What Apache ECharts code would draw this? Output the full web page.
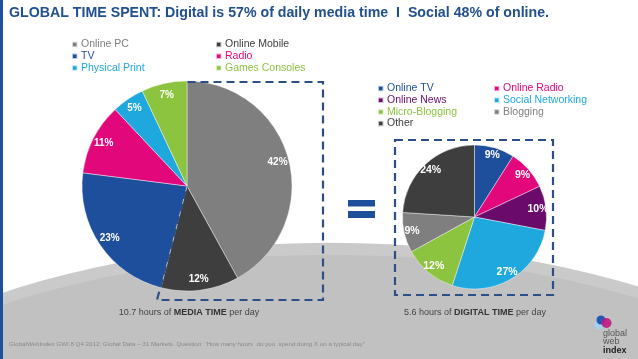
<!DOCTYPE html>
<html>
<head>
<meta charset="utf-8">
<script src="https://cdn.jsdelivr.net/npm/echarts@6/dist/echarts.min.js"></script>
<style>html,body{margin:0;padding:0;background:#fff;}#c{width:638px;height:359px;}</style>
</head>
<body>
<div id="c"></div>
<script>
// ---- data ----
const mediaCategories = ['Online PC', 'Online Mobile', 'TV', 'Radio', 'Physical Print', 'Games Consoles'];
const mediaValues = [42, 12, 23, 11, 5, 7];
const mediaColors = ['#7f7f7f', '#3e3e3e', '#1e4f9c', '#e2077a', '#1fa8de', '#8cc33f'];

const digitalCategories = ['Online TV', 'Online Radio', 'Online News', 'Social Networking', 'Micro-Blogging', 'Blogging', 'Other'];
const digitalValues = [9, 9, 10, 27, 12, 9, 24];
const digitalColors = ['#1e4f9c', '#e2077a', '#6a0b6c', '#1fa8de', '#8cc33f', '#7f7f7f', '#3e3e3e'];

const titleText = 'GLOBAL TIME SPENT: Digital is 57% of daily media time  I  Social 48% of online.';
const mediaCaption = ['10.7 hours of ', 'MEDIA TIME', ' per day'];
const digitalCaption = ['5.6 hours of ', 'DIGITAL TIME', ' per day'];
const footnote = 'GlobalWebIndex GWI.8 Q4 2012: Global Data \u2013 31 Markets. Question: \u201CHow many hours  do you  spend doing X on a typical day\u201D';

// ---- build ----
const FONT = 'Liberation Sans, Arial, sans-serif';
function items(names, vals, colors) {
  return names.map((n, i) => ({ name: n, value: vals[i], itemStyle: { color: colors[i] } }));
}
function legendData(names, colors, idx) {
  return idx.map(i => ({ name: names[i], textStyle: { color: colors[i] } }));
}
function legend(left, top, names, colors, idx) {
  return {
    orient: 'vertical', left: left, top: top, icon: 'rect',
    itemWidth: 5.5, itemHeight: 5.5, itemGap: 0.7, padding: 0, selectedMode: false,
    textStyle: { fontFamily: FONT, fontSize: 10.5, lineHeight: 11, padding: [0, 0, 0, -1.5] },
    data: legendData(names, colors, idx)
  };
}
const pieBase = { type: 'pie', startAngle: 90, clockwise: true, animation: false, emphasis: { disabled: true } };
const mediaData = items(mediaCategories, mediaValues, mediaColors);
const digitalData = items(digitalCategories, digitalValues, digitalColors);
function labelOverlay(center, radius, data, fs) {
  return Object.assign({}, pieBase, {
    center: center, radius: radius, silent: true, legendHoverLink: false,
    data: data.map(d => ({ name: d.name, value: d.value, itemStyle: { color: 'rgba(0,0,0,0)' } })),
    itemStyle: { borderWidth: 0 },
    label: { show: true, position: 'inside', formatter: '{c}%', color: '#fff', fontWeight: 'bold', fontSize: fs, fontFamily: FONT },
    labelLine: { show: false }, z: 5
  });
}
const dash = { stroke: '#2b4f86', lineWidth: 2.2, lineDash: [8, 5], fill: null };

const option = {
  animation: false,
  title: {
    text: titleText, left: 9, top: 6, padding: 0,
    textStyle: { fontFamily: FONT, fontSize: 14.2, fontWeight: 'bold', color: '#22508f' }
  },
  legend: [
    legend(71, 39, mediaCategories, mediaColors, [0, 2, 4]),
    legend(215, 39, mediaCategories, mediaColors, [1, 3, 5]),
    legend(377, 83, digitalCategories, digitalColors, [0, 2, 4, 6]),
    legend(493, 83, digitalCategories, digitalColors, [1, 3, 5])
  ],
  series: [
    Object.assign({}, pieBase, {
      center: [187, 186], radius: [0, 105], data: mediaData,
      itemStyle: { borderColor: 'rgba(255,255,255,0.7)', borderWidth: 0.6 },
      label: { show: false }, labelLine: { show: false }
    }),
    Object.assign({}, pieBase, {
      center: [474.5, 217], radius: [0, 72], data: digitalData,
      itemStyle: { borderColor: 'rgba(255,255,255,0.7)', borderWidth: 0.6 },
      label: { show: false }, labelLine: { show: false }
    }),
    labelOverlay([187, 186], [76, 105], mediaData, 10),
    labelOverlay([474.5, 217], [50, 72], digitalData, 10.5)
  ],
  graphic: [
    // background arc
    { type: 'circle', x: 330, y: 563, scaleY: 0.525, shape: { cx: 0, cy: 0, r: 610 }, style: { fill: '#cacaca' }, z: -10, silent: true },
    { type: 'circle', x: 330, y: 575, scaleY: 0.525, shape: { cx: 0, cy: 0, r: 610 }, style: { fill: '#c1c1c1' }, z: -9, silent: true },
    // left accent bar
    { type: 'rect', shape: { x: 0, y: 0, width: 3, height: 359 }, style: { fill: '#1e4f9c' }, z: 20, silent: true },
    // dashed boxes
    { type: 'polyline', shape: { points: [[187.5, 82], [323, 82], [323, 300], [157, 300], [187, 186]] }, style: dash, z: 20, silent: true },
    { type: 'rect', shape: { x: 395, y: 140, width: 158, height: 155 }, style: dash, z: 20, silent: true },
    // equals sign
    { type: 'rect', shape: { x: 348, y: 200, width: 27, height: 6.5 }, style: { fill: '#1e4f9c' }, z: 20, silent: true },
    { type: 'rect', shape: { x: 348, y: 211, width: 27, height: 7 }, style: { fill: '#1e4f9c' }, z: 20, silent: true },
    // captions
    { type: 'text', x: 189, y: 313, z: 20, silent: true,
      style: { text: '{a|' + mediaCaption[0] + '}{b|' + mediaCaption[1] + '}{a|' + mediaCaption[2] + '}', align: 'center', verticalAlign: 'middle',
        rich: { a: { fontFamily: FONT, fontSize: 9, fill: '#444' }, b: { fontFamily: FONT, fontSize: 9, fontWeight: 'bold', fill: '#333' } } } },
    { type: 'text', x: 475, y: 313, z: 20, silent: true,
      style: { text: '{a|' + digitalCaption[0] + '}{b|' + digitalCaption[1] + '}{a|' + digitalCaption[2] + '}', align: 'center', verticalAlign: 'middle',
        rich: { a: { fontFamily: FONT, fontSize: 9, fill: '#444' }, b: { fontFamily: FONT, fontSize: 9, fontWeight: 'bold', fill: '#333' } } } },
    // footnote
    { type: 'text', x: 9, y: 344, z: 20, silent: true,
      style: { text: footnote, fontFamily: FONT, fontSize: 6.2, fill: '#8a8a8a', verticalAlign: 'middle' } },
    // logo
    { type: 'circle', shape: { cx: 599, cy: 325, r: 4.5 }, style: { fill: '#9fd3ef' }, z: 20, silent: true },
    { type: 'circle', shape: { cx: 601, cy: 320, r: 4.5 }, style: { fill: '#2856b8' }, z: 21, silent: true },
    { type: 'circle', shape: { cx: 606.5, cy: 323, r: 5 }, style: { fill: '#c0187e', opacity: 0.9 }, z: 22, silent: true },
    { type: 'text', x: 603, y: 334, z: 20, silent: true, style: { text: 'global', fontFamily: FONT, fontSize: 9, fill: '#555', verticalAlign: 'middle' } },
    { type: 'text', x: 603, y: 342, z: 20, silent: true, style: { text: 'web', fontFamily: FONT, fontSize: 9, fill: '#555', verticalAlign: 'middle' } },
    { type: 'text', x: 603, y: 350.5, z: 20, silent: true, style: { text: 'index', fontFamily: FONT, fontSize: 9, fontWeight: 'bold', fill: '#222', verticalAlign: 'middle' } }
  ]
};
const chart = echarts.init(document.getElementById('c'), null, { renderer: 'canvas' });
chart.setOption(option);
</script>
</body>
</html>
